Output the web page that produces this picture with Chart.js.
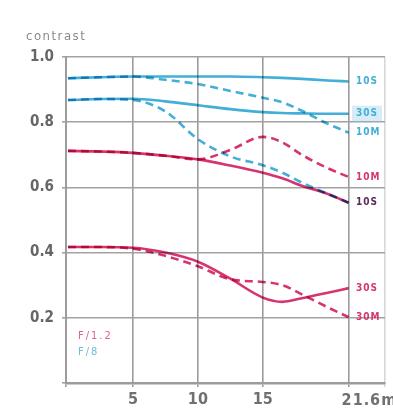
<!DOCTYPE html>
<html>
<head>
<meta charset="utf-8">
<script src="https://cdn.jsdelivr.net/npm/chart.js@4.4.1/dist/chart.umd.min.js"></script>
<style>
  html, body { margin: 0; padding: 0; background: #fff; }
  #wrap { width: 393px; height: 418px; }
</style>
</head>
<body>
<div id="wrap"><canvas id="mtf" width="393" height="418"></canvas></div>
<script>
// ===== MTF data (image height mm -> contrast) =====
const imageHeights = [0, 2.5, 5, 7.5, 10, 12.5, 15, 16.5, 18, 20, 21.6]
const xTicks = [5, 10, 15, 21.6]
const lastTickUnit = 'mm'

// f/8 (blue)
const f8_10S = [0.935, 0.938, 0.94, 0.94, 0.94, 0.94, 0.938, 0.936, 0.933, 0.928, 0.925]
const f8_10M = [0.935, 0.938, 0.94, 0.93, 0.917, 0.896, 0.875, 0.861, 0.835, 0.795, 0.768]
const f8_30S = [0.868, 0.871, 0.872, 0.864, 0.852, 0.84, 0.831, 0.828, 0.827, 0.826, 0.826]
const f8_30M = [0.868, 0.871, 0.868, 0.833, 0.748, 0.695, 0.668, 0.645, 0.615, 0.58, 0.553]

// f/1.2 (red)
const f12_10S = [0.712, 0.71, 0.706, 0.697, 0.686, 0.667, 0.645, 0.628, 0.605, 0.58, 0.553]
const f12_10M = [0.712, 0.71, 0.706, 0.697, 0.686, 0.715, 0.755, 0.738, 0.70, 0.659, 0.632]
const f12_30S = [0.417, 0.417, 0.415, 0.40, 0.372, 0.32, 0.262, 0.249, 0.26, 0.277, 0.291]
const f12_30M = [0.417, 0.417, 0.412, 0.39, 0.358, 0.318, 0.31, 0.30, 0.272, 0.232, 0.202]

const BLUE = '#43aed6'
const RED = '#d63470'
const FONT = "'DejaVu Sans Condensed', 'DejaVu Sans', sans-serif"

function pts(values) {
  return values.map((v, i) => ({ x: imageHeights[i], y: v }))
}

function series(label, values, color, dashed, tag, tagColor) {
  return {
    label: label,
    data: pts(values),
    borderColor: color,
    borderWidth: 2.6,
    borderDash: dashed ? [8, 5] : [],
    pointRadius: 0,
    fill: false,
    cubicInterpolationMode: 'monotone',
    tag: tag,
    tagColor: tagColor || color
  }
}

// right-hand curve labels, legend and captions
const annotations = {
  id: 'annotations',
  beforeDatasetsDraw(chart) {
    chart.ctx.save()
    chart.ctx.globalCompositeOperation = 'multiply'
  },
  afterDatasetsDraw(chart) {
    chart.ctx.restore()
  },
  afterDraw(chart) {
    const ctx = chart.ctx
    const x = chart.scales.x
    const y = chart.scales.y
    ctx.save()
    ctx.textBaseline = 'middle'
    ctx.textAlign = 'left'
    ctx.letterSpacing = '1px'
    ctx.font = 'bold 10px ' + FONT

    // light box behind the blue 30S tag
    const y30 = y.getPixelForValue(f8_30S[f8_30S.length - 1])
    ctx.fillStyle = 'rgba(140, 200, 228, 0.35)'
    ctx.fillRect(352, y30 - 8, 30, 16)

    chart.data.datasets.forEach(ds => {
      if (!ds.tag) return
      const last = ds.data[ds.data.length - 1]
      ctx.fillStyle = ds.tagColor
      ctx.fillText(ds.tag, 356, y.getPixelForValue(last.y))
    })

    // legend
    ctx.font = '11px ' + FONT
    ctx.letterSpacing = '2px'
    ctx.fillStyle = '#e0609a'
    ctx.fillText('F/1.2', 78, 336)
    ctx.fillStyle = '#6cbede'
    ctx.fillText('F/8', 78, 352)

    // axis captions
    ctx.font = '13px ' + FONT
    ctx.letterSpacing = '1.5px'
    ctx.fillStyle = '#8a8a8a'
    ctx.fillText('contrast', 26, 37)

    // last x tick with its unit, set off to the right like the original
    const lastTick = xTicks[xTicks.length - 1]
    ctx.font = 'bold 16px ' + FONT
    ctx.letterSpacing = '1px'
    ctx.fillStyle = '#707070'
    ctx.fillText(lastTick + lastTickUnit, x.getPixelForValue(lastTick) - 7, 401)
    ctx.restore()
  }
}

const ctx = document.getElementById('mtf').getContext('2d')
const mtfChart = new Chart(ctx, {
  type: 'line',
  data: {
    datasets: [
      series('f/8 10S', f8_10S, BLUE, false, '10S'),
      series('f/8 10M', f8_10M, BLUE, true, '10M'),
      series('f/8 30S', f8_30S, BLUE, false, '30S'),
      series('f/8 30M', f8_30M, BLUE, true, null),
      series('f/1.2 10S', f12_10S, RED, false, '10S', '#5a2a5c'),
      series('f/1.2 10M', f12_10M, RED, true, '10M'),
      series('f/1.2 30S', f12_30S, RED, false, '30S'),
      series('f/1.2 30M', f12_30M, RED, true, '30M')
    ]
  },
  options: {
    responsive: false,
    animation: false,
    layout: { padding: { top: 57, right: 8, left: 0, bottom: 0 } },
    plugins: {
      legend: { display: false },
      tooltip: { enabled: false }
    },
    scales: {
      x: {
        type: 'linear',
        min: -0.15,
        max: 24.4,
        afterBuildTicks(axis) {
          axis.ticks = [{ value: -0.15 }].concat(xTicks.map(v => ({ value: v })), [{ value: 24.4 }])
        },
        afterFit(axis) { axis.height = 35 },
        grid: {
          color: ctx => (ctx.tick && ctx.tick.value > 22) ? '#d8d8d8' : '#9c9c9c',
          lineWidth: 1.6,
          drawTicks: true,
          tickLength: 4
        },
        border: { display: true, color: '#9c9c9c', width: 2.5 },
        ticks: {
          color: '#707070',
          font: { family: FONT, size: 16, weight: 'bold' },
          padding: 3,
          maxRotation: 0,
          autoSkip: false,
          callback: v => xTicks.slice(0, -1).includes(v) ? String(v) : ''
        }
      },
      y: {
        min: 0,
        max: 1.0,
        afterFit(axis) { axis.width = 66 },
        grid: {
          color: '#a2a2a2',
          lineWidth: 1.6,
          drawTicks: true,
          tickLength: 4
        },
        border: { display: true, color: '#9c9c9c', width: 2 },
        ticks: {
          stepSize: 0.2,
          color: '#666',
          font: { family: FONT, size: 15, weight: 'bold' },
          padding: 8,
          callback: v => v === 0 ? '' : v.toFixed(1)
        }
      }
    }
  },
  plugins: [annotations]
})
</script>
</body>
</html>
